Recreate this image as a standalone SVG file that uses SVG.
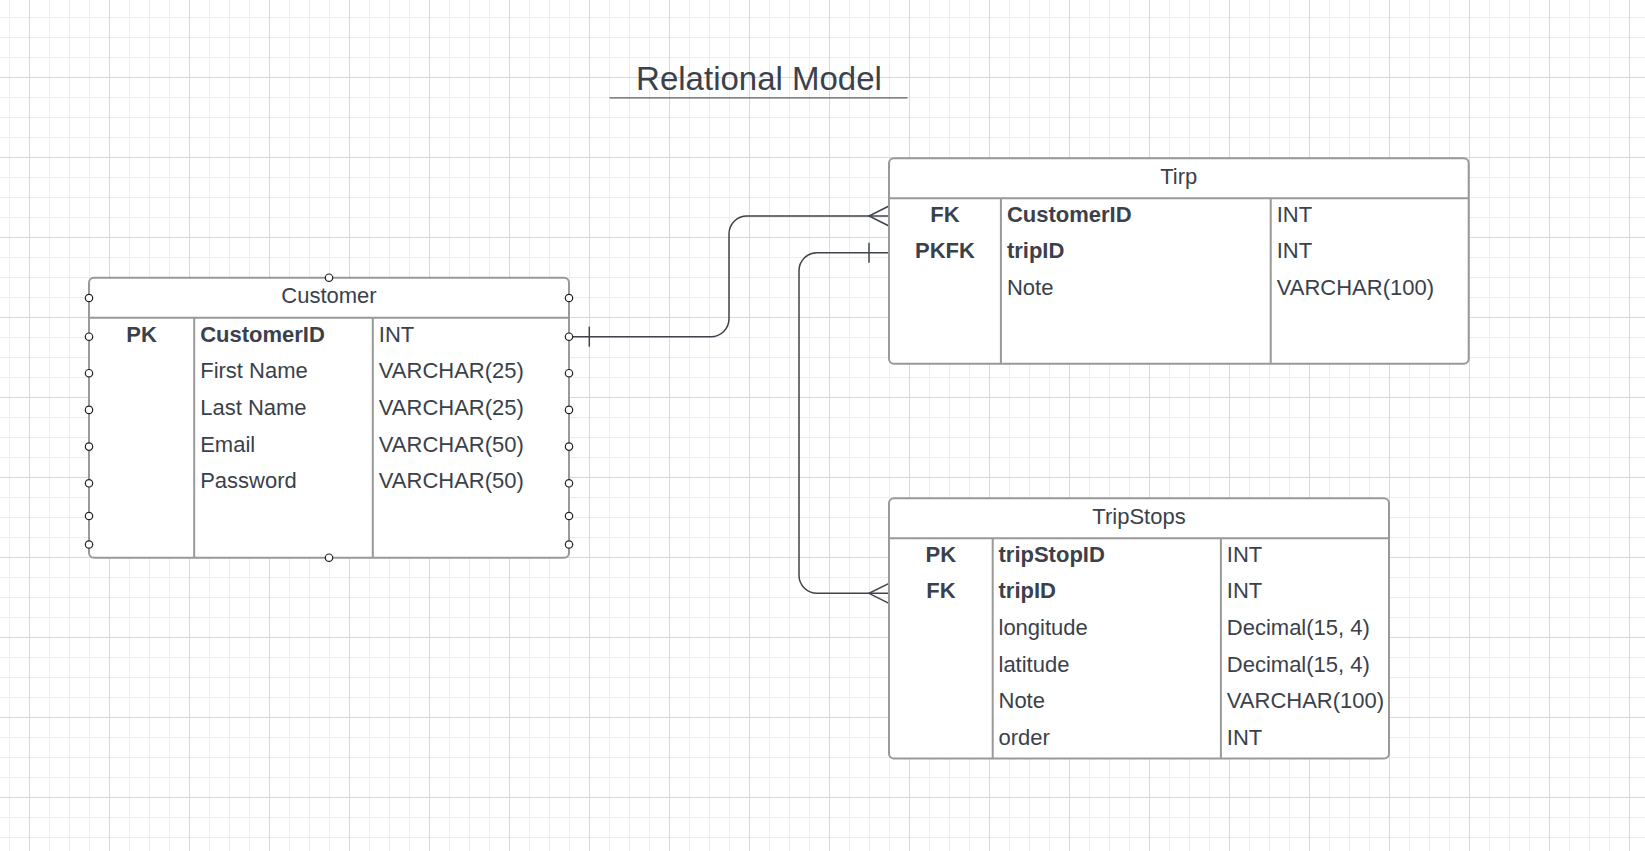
<svg xmlns="http://www.w3.org/2000/svg" width="1645" height="851" viewBox="0 0 1645 851">
<defs>
<pattern id="gMinor" x="9" y="17" width="20" height="20" patternUnits="userSpaceOnUse"><path d="M0.5 0V20M0 0.5H20" stroke="#ececec" stroke-width="1" fill="none"/></pattern>
<pattern id="gMajor" x="29" y="77" width="80" height="80" patternUnits="userSpaceOnUse"><path d="M0.5 0V80M0 0.5H80" stroke="#d9d9d9" stroke-width="1" fill="none"/></pattern>
<style>
.box{fill:#fff;stroke:#999;stroke-width:2}
.div{stroke:#999;stroke-width:2;fill:none}
text{font-family:"Liberation Sans",Arial,sans-serif;font-size:22px;fill:#3a414a}
.b{font-weight:bold}
.c{text-anchor:middle}
.h{text-anchor:middle}
.pt{fill:#fff;stroke:#222;stroke-width:1.2}
.con{fill:none;stroke:#3f444b;stroke-width:1.5}
</style>
</defs>
<rect width="1645" height="851" fill="#fff"/>
<rect width="1645" height="851" fill="url(#gMinor)"/>
<rect width="1645" height="851" fill="url(#gMajor)"/>

<g id="title">
<text x="759" y="90" class="c" style="font-size:33px">Relational Model</text>
<line x1="609.5" y1="97.8" x2="907.5" y2="97.8" stroke="#5a5f66" stroke-width="1.3"/>
</g>

<g id="connectors">
<path class="con" d="M569 336.7H711A18 18 0 0 0 729 318.7V234A18 18 0 0 1 747 216H889"/>
<path class="con" d="M589.3 326.7V346.7"/>
<path class="con" d="M889 206L869 216L889 226"/>
<path class="con" d="M889 252.7H817A18 18 0 0 0 799 270.7V575.3A18 18 0 0 0 817 593.3H889"/>
<path class="con" d="M869 242.7V262.7"/>
<path class="con" d="M889 583.3L869 593.3L889 603.3"/>
</g>

<g id="customer">
<rect class="box" x="89" y="277.7" width="480" height="280" rx="5"/>
<path class="div" d="M89 317.7H569M194.2 317.7V557.7M372.8 317.7V557.7"/>
<text x="329" y="303" class="h">Customer</text>
<text x="141.6" y="341.5" class="c b">PK</text>
<text x="200.2" y="341.5" class="b">CustomerID</text>
<text x="378.8" y="341.5">INT</text>
<text x="200.2" y="378.2">First Name</text>
<text x="378.8" y="378.2">VARCHAR(25)</text>
<text x="200.2" y="414.9">Last Name</text>
<text x="378.8" y="414.9">VARCHAR(25)</text>
<text x="200.2" y="451.6">Email</text>
<text x="378.8" y="451.6">VARCHAR(50)</text>
<text x="200.2" y="488.3">Password</text>
<text x="378.8" y="488.3">VARCHAR(50)</text>
<g>
<circle class="pt" cx="89" cy="298" r="3.7"/><circle class="pt" cx="569" cy="298" r="3.7"/>
<circle class="pt" cx="89" cy="336.7" r="3.7"/><circle class="pt" cx="569" cy="336.7" r="3.7"/>
<circle class="pt" cx="89" cy="373.2" r="3.7"/><circle class="pt" cx="569" cy="373.2" r="3.7"/>
<circle class="pt" cx="89" cy="409.9" r="3.7"/><circle class="pt" cx="569" cy="409.9" r="3.7"/>
<circle class="pt" cx="89" cy="446.6" r="3.7"/><circle class="pt" cx="569" cy="446.6" r="3.7"/>
<circle class="pt" cx="89" cy="483.3" r="3.7"/><circle class="pt" cx="569" cy="483.3" r="3.7"/>
<circle class="pt" cx="89" cy="516" r="3.7"/><circle class="pt" cx="569" cy="516" r="3.7"/>
<circle class="pt" cx="89" cy="544.5" r="3.7"/><circle class="pt" cx="569" cy="544.5" r="3.7"/>
<circle class="pt" cx="329" cy="277.7" r="3.7"/><circle class="pt" cx="329" cy="557.7" r="3.7"/>
</g>
</g>

<g id="tirp">
<rect class="box" x="889" y="158.3" width="579.7" height="205.5" rx="5"/>
<path class="div" d="M889 198.3H1468.7M1000.9 198.3V363.8M1270.7 198.3V363.8"/>
<text x="1178.8" y="183.5" class="h">Tirp</text>
<text x="944.9" y="221.5" class="c b">FK</text>
<text x="1006.9" y="221.5" class="b">CustomerID</text>
<text x="1276.7" y="221.5">INT</text>
<text x="944.9" y="258.2" class="c b">PKFK</text>
<text x="1006.9" y="258.2" class="b">tripID</text>
<text x="1276.7" y="258.2">INT</text>
<text x="1006.9" y="294.9">Note</text>
<text x="1276.7" y="294.9">VARCHAR(100)</text>
</g>

<g id="tripstops">
<rect class="box" x="889" y="498.3" width="500" height="260.2" rx="5"/>
<path class="div" d="M889 538.3H1389M992.7 538.3V758.5M1220.9 538.3V758.5"/>
<text x="1139" y="523.5" class="h">TripStops</text>
<text x="940.9" y="561.5" class="c b">PK</text>
<text x="998.5" y="561.5" class="b">tripStopID</text>
<text x="1226.8" y="561.5">INT</text>
<text x="940.9" y="598.2" class="c b">FK</text>
<text x="998.5" y="598.2" class="b">tripID</text>
<text x="1226.8" y="598.2">INT</text>
<text x="998.5" y="634.9">longitude</text>
<text x="1226.8" y="634.9">Decimal(15, 4)</text>
<text x="998.5" y="671.6">latitude</text>
<text x="1226.8" y="671.6">Decimal(15, 4)</text>
<text x="998.5" y="708.3">Note</text>
<text x="1226.8" y="708.3">VARCHAR(100)</text>
<text x="998.5" y="745">order</text>
<text x="1226.8" y="745">INT</text>
</g>
</svg>
